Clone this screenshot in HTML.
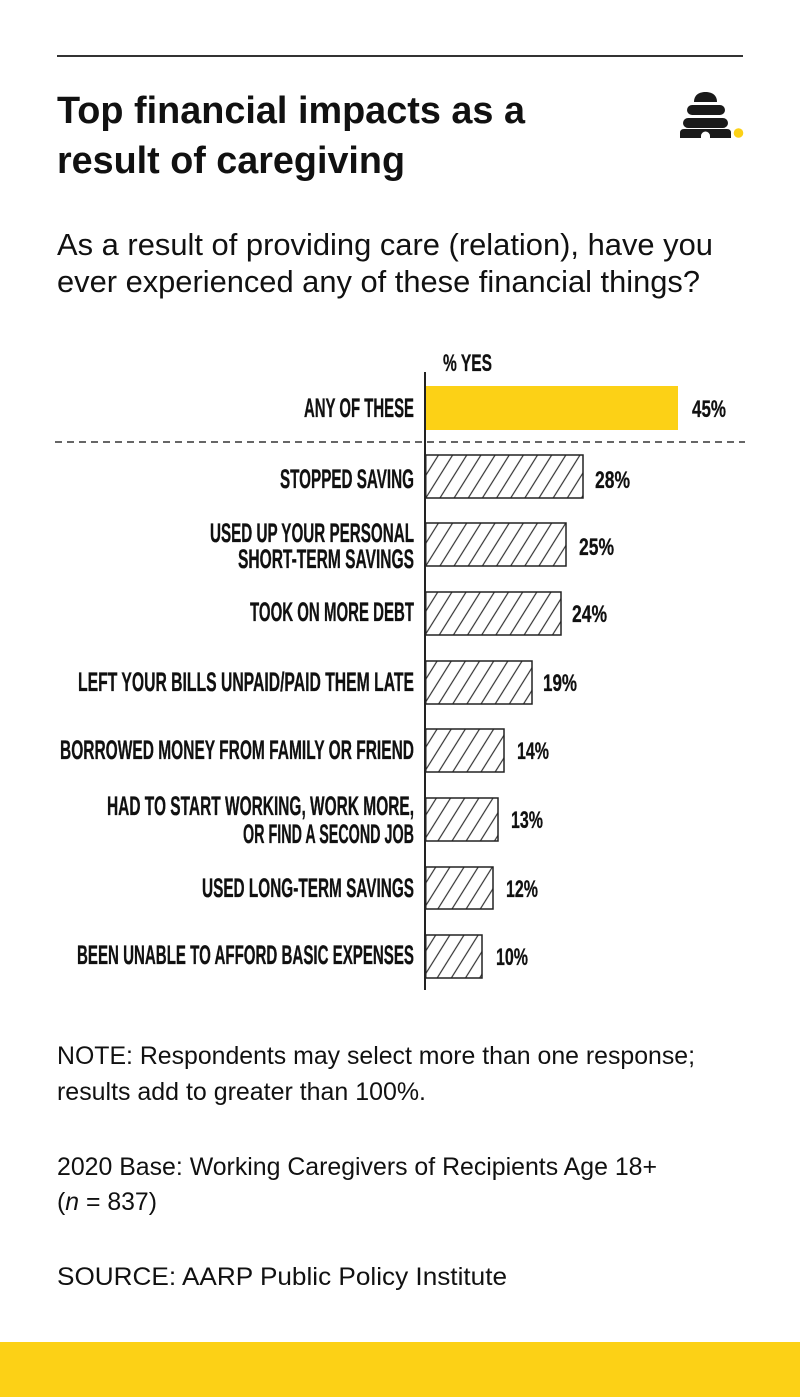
<!DOCTYPE html>
<html>
<head>
<meta charset="utf-8">
<style>
  html, body { margin: 0; padding: 0; background: #ffffff; }
  body { width: 800px; height: 1397px; overflow: hidden; }
  svg { display: block; }
  .title { font-family: "Liberation Sans", sans-serif; font-weight: bold; font-size: 38px; fill: #111; }
  .sub { font-family: "Liberation Sans", sans-serif; font-size: 31px; fill: #111; }
  .lab { font-family: "Liberation Sans Narrow", "Liberation Sans", sans-serif; font-weight: bold; font-size: 27px; fill: #111; stroke: #111; stroke-width: 0.35; }
  .val { font-family: "Liberation Sans Narrow", "Liberation Sans", sans-serif; font-weight: bold; font-size: 24px; fill: #111; stroke: #111; stroke-width: 0.3; }
  .foot { font-family: "Liberation Sans", sans-serif; font-size: 25px; fill: #111; }
</style>
</head>
<body>
<svg width="800" height="1397" viewBox="0 0 800 1397" xmlns="http://www.w3.org/2000/svg">
  <defs>
    <pattern id="hatch" patternUnits="userSpaceOnUse" width="12" height="20" patternTransform="rotate(32)">
      <line x1="1" y1="0" x2="1" y2="20" stroke="#333" stroke-width="1.2"/>
    </pattern>
  </defs>

  <rect x="0" y="0" width="800" height="1397" fill="#fff"/>

  <!-- top rule -->
  <rect x="57" y="55" width="686" height="2" fill="#333"/>

  <!-- title -->
  <text class="title" x="57" y="123" textLength="468" lengthAdjust="spacingAndGlyphs">Top financial impacts as a</text>
  <text class="title" x="57" y="173" textLength="348" lengthAdjust="spacingAndGlyphs">result of caregiving</text>

  <!-- logo -->
  <g fill="#1a1a1a">
    <path d="M694,102 C694,95 699,92 705.5,92 C712,92 717,95 717,102 Z"/>
    <rect x="687" y="105" width="38" height="10" rx="5"/>
    <rect x="683" y="118" width="45" height="10" rx="5"/>
    <path d="M684,129 L727,129 Q731,129 731,133 L731,138 L680,138 L680,133 Q680,129 684,129 Z"/>
  </g>
  <path d="M701,138 L701,136 A4.5,4.5 0 0 1 710,136 L710,138 Z" fill="#fff"/>
  <circle cx="738.5" cy="133" r="4.8" fill="#FCD116"/>

  <!-- subtitle -->
  <text class="sub" x="57" y="255" textLength="656" lengthAdjust="spacingAndGlyphs">As a result of providing care (relation), have you</text>
  <text class="sub" x="57" y="292" textLength="643" lengthAdjust="spacingAndGlyphs">ever experienced any of these financial things?</text>

  <!-- axis header -->
  <text class="val" x="443" y="371" textLength="49" lengthAdjust="spacingAndGlyphs">% YES</text>

  <!-- bars -->
  <rect x="425" y="386" width="253" height="44" fill="#FCD116"/>

  <g stroke="#222" stroke-width="1.5" fill="url(#hatch)">
    <rect x="425.75" y="455" width="157.25" height="43"/>
    <rect x="425.75" y="523" width="140.25" height="43"/>
    <rect x="425.75" y="592" width="135.25" height="43"/>
    <rect x="425.75" y="661" width="106.25" height="43"/>
    <rect x="425.75" y="729" width="78.25" height="43"/>
    <rect x="425.75" y="798" width="72.25" height="43"/>
    <rect x="425.75" y="867" width="67.25" height="42"/>
    <rect x="425.75" y="935" width="56.25" height="43"/>
  </g>

  <!-- dashed separator -->
  <line x1="55" y1="442" x2="745" y2="442" stroke="#333" stroke-width="1.5" stroke-dasharray="7 5"/>

  <!-- axis -->
  <line x1="425" y1="372" x2="425" y2="990" stroke="#222" stroke-width="2"/>

  <!-- labels -->
  <text class="lab" x="304" y="417" textLength="110" lengthAdjust="spacingAndGlyphs">ANY OF THESE</text>
  <text class="lab" x="280" y="488" textLength="134" lengthAdjust="spacingAndGlyphs">STOPPED SAVING</text>
  <text class="lab" x="210" y="542" textLength="204" lengthAdjust="spacingAndGlyphs">USED UP YOUR PERSONAL</text>
  <text class="lab" x="238" y="568" textLength="176" lengthAdjust="spacingAndGlyphs">SHORT-TERM SAVINGS</text>
  <text class="lab" x="250" y="621" textLength="164" lengthAdjust="spacingAndGlyphs">TOOK ON MORE DEBT</text>
  <text class="lab" x="78" y="691" textLength="336" lengthAdjust="spacingAndGlyphs">LEFT YOUR BILLS UNPAID/PAID THEM LATE</text>
  <text class="lab" x="60" y="759" textLength="354" lengthAdjust="spacingAndGlyphs">BORROWED MONEY FROM FAMILY OR FRIEND</text>
  <text class="lab" x="107" y="815" textLength="307" lengthAdjust="spacingAndGlyphs">HAD TO START WORKING, WORK MORE,</text>
  <text class="lab" x="243" y="843" textLength="171" lengthAdjust="spacingAndGlyphs">OR FIND A SECOND JOB</text>
  <text class="lab" x="202" y="897" textLength="212" lengthAdjust="spacingAndGlyphs">USED LONG-TERM SAVINGS</text>
  <text class="lab" x="77" y="964" textLength="337" lengthAdjust="spacingAndGlyphs">BEEN UNABLE TO AFFORD BASIC EXPENSES</text>

  <!-- values -->
  <text class="val" x="692" y="417" textLength="34" lengthAdjust="spacingAndGlyphs">45%</text>
  <text class="val" x="595" y="488" textLength="35" lengthAdjust="spacingAndGlyphs">28%</text>
  <text class="val" x="579" y="555" textLength="35" lengthAdjust="spacingAndGlyphs">25%</text>
  <text class="val" x="572" y="622" textLength="35" lengthAdjust="spacingAndGlyphs">24%</text>
  <text class="val" x="543" y="691" textLength="34" lengthAdjust="spacingAndGlyphs">19%</text>
  <text class="val" x="517" y="759" textLength="32" lengthAdjust="spacingAndGlyphs">14%</text>
  <text class="val" x="511" y="828" textLength="32" lengthAdjust="spacingAndGlyphs">13%</text>
  <text class="val" x="506" y="897" textLength="32" lengthAdjust="spacingAndGlyphs">12%</text>
  <text class="val" x="496" y="965" textLength="32" lengthAdjust="spacingAndGlyphs">10%</text>

  <!-- footer notes -->
  <text class="foot" x="57" y="1064" textLength="638" lengthAdjust="spacingAndGlyphs">NOTE: Respondents may select more than one response;</text>
  <text class="foot" x="57" y="1100" textLength="369" lengthAdjust="spacingAndGlyphs">results add to greater than 100%.</text>
  <text class="foot" x="57" y="1175" textLength="600" lengthAdjust="spacingAndGlyphs">2020 Base: Working Caregivers of Recipients Age 18+</text>
  <text class="foot" x="57" y="1210" textLength="100" lengthAdjust="spacingAndGlyphs">(<tspan font-style="italic">n</tspan> = 837)</text>
  <text class="foot" x="57" y="1285" textLength="450" lengthAdjust="spacingAndGlyphs">SOURCE: AARP Public Policy Institute</text>

  <!-- bottom band -->
  <rect x="0" y="1342" width="800" height="55" fill="#FCD116"/>
</svg>
</body>
</html>
